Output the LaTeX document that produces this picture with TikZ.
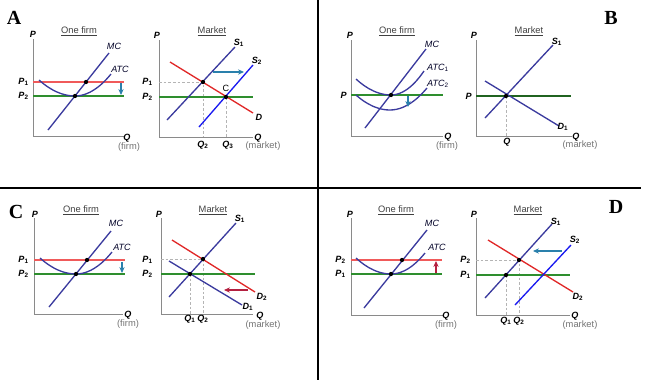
\documentclass[tikz,border=0pt]{standalone}
\usepackage{fontspec}
\setmainfont{Liberation Serif}
\newfontfamily\lab{Liberation Sans}
\usetikzlibrary{arrows.meta}
\definecolor{curveblue}{HTML}{3B3B9E}
\definecolor{brightblue}{HTML}{1A1AF0}
\definecolor{demandred}{HTML}{E02828}
\definecolor{pricered}{HTML}{F05A5A}
\definecolor{pricegreen}{HTML}{2E8E2E}
\definecolor{shiftteal}{HTML}{2A80AC}
\definecolor{shiftcrimson}{HTML}{B42040}
\definecolor{axisgray}{HTML}{8A8A8A}
\definecolor{guidegray}{HTML}{B4B4B4}
\newcommand{\lsub}[1]{\textsubscript{\upshape #1}}
\tikzset{
    axis/.style={draw=axisgray, line width=.7pt},
    curve/.style={draw=curveblue, line width=1pt},
    supply/.style={draw=brightblue, line width=1pt},
    demand/.style={draw=demandred, line width=1pt},
    pricehi/.style={draw=pricered, line width=1pt},
    pricelo/.style={draw=pricegreen, line width=1pt},
    guide/.style={draw=guidegray, dashed, dash pattern=on 2pt off 1.5pt, line width=.5pt},
    tealshift/.style={draw=shiftteal, line width=1pt, -{Stealth[length=4.5pt,width=4pt]}},
    redshift/.style={draw=shiftcrimson, line width=1pt, -{Stealth[length=4.5pt,width=4pt]}},
    dot/.style={circle, fill=black, inner sep=0pt, minimum size=3.2pt},
    lbl/.style={font=\lab\bfseries\itshape\fontsize{6.8}{7.5}\selectfont, inner sep=0pt},
    curvelbl/.style={font=\lab\itshape\fontsize{6.8}{7.5}\selectfont, text=black!85!blue, inner sep=0pt},
    title/.style={font=\lab\fontsize{7}{8}\selectfont, text=black!75, inner sep=0pt},
    unit/.style={font=\lab\fontsize{7}{8}\selectfont, text=black!55, inner sep=0pt},
    panel/.style={font=\bfseries\fontsize{15}{16}\selectfont, inner sep=0pt},
}

\begin{document}
\begin{tikzpicture}[x=.75pt, y=-.75pt]
    \useasboundingbox (0,0) rectangle (661,390);
    \draw[line width=1.5pt] (318,0) -- (318,380);
    \draw[line width=1.5pt] (0,187.5) -- (641,187.5);

    % A: one firm
    \node[panel] (lA) at (14,18) {A};
    \draw[axis] (33,39) -- (33,136) -- (124,136);
        \node[lbl] (yA) at (33,34) {P};
        \node[lbl] (xA) at (127,138) {Q};
        \node[unit] (uA) at (129,147) {(firm)};
        \node[title] (tA) at (79,31) {\underline{One firm}};
    \draw[pricehi] (33,82) -- (124,82);
    \draw[pricelo] (33,96) -- (124,96);
        \node[lbl, anchor=east] (p1A) at (29,82) {P\lsub{1}};
        \node[lbl, anchor=east] (p2A) at (29,96) {P\lsub{2}};
    \draw[curve] (39,80) parabola bend (75,96) (111,74);
    \draw[curve] (48,130) -- (109,53);
        \node[curvelbl] (mcA) at (114,46) {MC};
        \node[curvelbl] (atcA) at (120,69) {ATC};
    \node[dot] (eA1) at (75,96) {};
    \node[dot] (eA2) at (86,82) {};
    \draw[tealshift] (121,83) -- (121,95);

    % A: market
    \draw[axis] (159,40) -- (159,137) -- (253,137);
        \node[lbl] (yAm) at (157,35) {P};
        \node[lbl] (xAm) at (258,138) {Q};
        \node[unit] (uAm) at (263,146) {(market)};
        \node[title] (tAm) at (212,31) {\underline{Market}};
        \node[lbl, anchor=east] (p1Am) at (153,82) {P\lsub{1}};
        \node[lbl, anchor=east] (p2Am) at (153,97) {P\lsub{2}};
    \coordinate (mA1) at (203,82);
    \coordinate (mA2) at (226,97);
    \draw[guide] (159,82) -- (mA1) -- (mA1 |- 0,137);
    \draw[guide] (mA2) -- (mA2 |- 0,137);
    \draw[pricelo] (159,97) -- (253,97);
    \draw[demand] (170,62) -- (253,113);
    \draw[curve] (167,120) -- (235,47);
    \draw[supply] (199,127) -- (253,65);
        \node[lbl] (s1Am) at (239,43) {S\lsub{1}};
        \node[lbl] (s2Am) at (257,61) {S\lsub{2}};
        \node[lbl] (dAm) at (259,117) {D};
        \node[font=\lab\fontsize{6.8}{7.5}\selectfont, inner sep=0pt] (cAm) at (226,88) {C};
        \node[lbl] (q2Am) at (203,145) {Q\lsub{2}};
        \node[lbl] (q3Am) at (228,145) {Q\lsub{3}};
    \node[dot] at (mA1) {};
    \node[dot] at (mA2) {};
    \draw[tealshift] (213,72) -- (244,72);

    % B: one firm
    \node[panel] (lB) at (611,18) {B};
    \draw[axis] (351,40) -- (351,136) -- (443,136);
        \node[lbl] (yB) at (350,35) {P};
        \node[lbl] (xB) at (448,137) {Q};
        \node[unit] (uB) at (447,146) {(firm)};
        \node[title] (tB) at (397,31) {\underline{One firm}};
        \node[lbl, anchor=east] (pB) at (347,95) {P};
    \draw[pricelo] (351,95) -- (443,95);
    \draw[curve] (356,79) parabola bend (391,95) (424,71);
    \draw[curve] (356,95) parabola bend (390,110) (427,88);
    \draw[curve] (365,128) -- (426,49);
        \node[curvelbl] (mcB) at (432,44) {MC};
        \node[curvelbl] (atc1B) at (438,68) {ATC\lsub{1}};
        \node[curvelbl] (atc2B) at (438,84) {ATC\lsub{2}};
    \node[dot] (eB) at (391,95) {};
    \draw[tealshift] (408,96) -- (408,107);

    % B: market
    \draw[axis] (476,40) -- (476,136) -- (572,136);
        \node[lbl] (yBm) at (474,35) {P};
        \node[lbl] (xBm) at (576,137) {Q};
        \node[unit] (uBm) at (580,145) {(market)};
        \node[title] (tBm) at (529,31) {\underline{Market}};
        \node[lbl, anchor=east] (pBm) at (472,96) {P};
    \coordinate (mB) at (506,96);
    \draw[guide] (mB) -- (mB |- 0,136);
    \draw[draw=pricegreen!70!black, line width=1pt] (476,96) -- (571,96);
    \draw[curve] (485,118) -- (553,45);
    \draw[curve] (485,81) -- (559,126);
        \node[lbl] (s1Bm) at (557,42) {S\lsub{1}};
        \node[lbl] (d1Bm) at (563,127) {D\lsub{1}};
        \node[lbl] (qBm) at (507,142) {Q};
    \node[dot] at (mB) {};

    % C: one firm
    \node[panel] (lC) at (16,212) {C};
    \draw[axis] (34,218) -- (34,314) -- (123,314);
        \node[lbl] (yC) at (35,214) {P};
        \node[lbl] (xC) at (128,315) {Q};
        \node[unit] (uC) at (128,324) {(firm)};
        \node[title] (tC) at (81,210) {\underline{One firm}};
        \node[lbl, anchor=east] (p1C) at (29,260) {P\lsub{1}};
        \node[lbl, anchor=east] (p2C) at (29,274) {P\lsub{2}};
    \draw[pricehi] (34,260) -- (125,260);
    \draw[pricelo] (34,274) -- (125,274);
    \draw[curve] (40,258) parabola bend (76,274) (112,252);
    \draw[curve] (49,307) -- (111,231);
        \node[curvelbl] (mcC) at (116,223) {MC};
        \node[curvelbl] (atcC) at (122,247) {ATC};
    \node[dot] (eC1) at (76,274) {};
    \node[dot] (eC2) at (87,260) {};
    \draw[tealshift] (122,262) -- (122,273);

    % C: market
    \draw[axis] (161,218) -- (161,314) -- (253,314);
        \node[lbl] (yCm) at (159,214) {P};
        \node[lbl] (xCm) at (260,316) {Q};
        \node[unit] (uCm) at (263,325) {(market)};
        \node[title] (tCm) at (213,210) {\underline{Market}};
        \node[lbl, anchor=east] (p1Cm) at (153,260) {P\lsub{1}};
        \node[lbl, anchor=east] (p2Cm) at (153,274) {P\lsub{2}};
    \coordinate (mC1) at (190,274);
    \coordinate (mC2) at (203,259);
    \draw[guide] (161,259) -- (mC2) -- (mC2 |- 0,314);
    \draw[guide] (mC1) -- (mC1 |- 0,314);
    \draw[pricelo] (161,274) -- (255,274);
    \draw[demand] (172,240) -- (255,292);
    \draw[curve] (169,261) -- (242,305);
    \draw[curve] (169,297) -- (236,223);
        \node[lbl] (s1Cm) at (240,219) {S\lsub{1}};
        \node[lbl] (d2Cm) at (262,297) {D\lsub{2}};
        \node[lbl] (d1Cm) at (248,307) {D\lsub{1}};
        \node[lbl] (q1Cm) at (190,319) {Q\lsub{1}};
        \node[lbl] (q2Cm) at (203,319) {Q\lsub{2}};
    \node[dot] at (mC1) {};
    \node[dot] at (mC2) {};
    \draw[redshift] (248,290) -- (224,290);

    % D: one firm
    \draw[axis] (351,218) -- (351,315) -- (443,315);
        \node[lbl] (yD) at (350,214) {P};
        \node[lbl] (xD) at (446,316) {Q};
        \node[unit] (uD) at (446,325) {(firm)};
        \node[title] (tD) at (396,210) {\underline{One firm}};
        \node[lbl, anchor=east] (p2D) at (346,260) {P\lsub{2}};
        \node[lbl, anchor=east] (p1D) at (346,274) {P\lsub{1}};
    \draw[pricehi] (351,260) -- (442,260);
    \draw[pricelo] (351,274) -- (442,274);
    \draw[curve] (356,258) parabola bend (391,274) (425,253);
    \draw[curve] (364,308) -- (427,230);
        \node[curvelbl] (mcD) at (432,223) {MC};
        \node[curvelbl] (atcD) at (437,247) {ATC};
    \node[dot] (eD1) at (391,274) {};
    \node[dot] (eD2) at (402,260) {};
    \draw[redshift] (436,273) -- (436,261);

    % D: market
    \node[panel] (lD) at (616,207) {D};
    \draw[axis] (476,218) -- (476,315) -- (570,315);
        \node[lbl] (yDm) at (474,214) {P};
        \node[lbl] (xDm) at (575,316) {Q};
        \node[unit] (uDm) at (580,325) {(market)};
        \node[title] (tDm) at (528,210) {\underline{Market}};
        \node[lbl, anchor=east] (p2Dm) at (471,260) {P\lsub{2}};
        \node[lbl, anchor=east] (p1Dm) at (471,275) {P\lsub{1}};
    \coordinate (mD1) at (506,275);
    \coordinate (mD2) at (519,260);
    \draw[guide] (476,260) -- (mD2) -- (mD2 |- 0,315);
    \draw[guide] (mD1) -- (mD1 |- 0,315);
    \draw[pricelo] (476,275) -- (570,275);
    \draw[demand] (488,240) -- (573,292);
    \draw[curve] (485,298) -- (552,224);
    \draw[supply] (515,305) -- (571,245);
        \node[lbl] (s1Dm) at (556,222) {S\lsub{1}};
        \node[lbl] (s2Dm) at (575,240) {S\lsub{2}};
        \node[lbl] (d2Dm) at (578,297) {D\lsub{2}};
        \node[lbl] (q1Dm) at (506,321) {Q\lsub{1}};
        \node[lbl] (q2Dm) at (519,321) {Q\lsub{2}};
    \node[dot] at (mD1) {};
    \node[dot] at (mD2) {};
    \draw[tealshift] (562,251) -- (533,251);
\end{tikzpicture}
\end{document}
